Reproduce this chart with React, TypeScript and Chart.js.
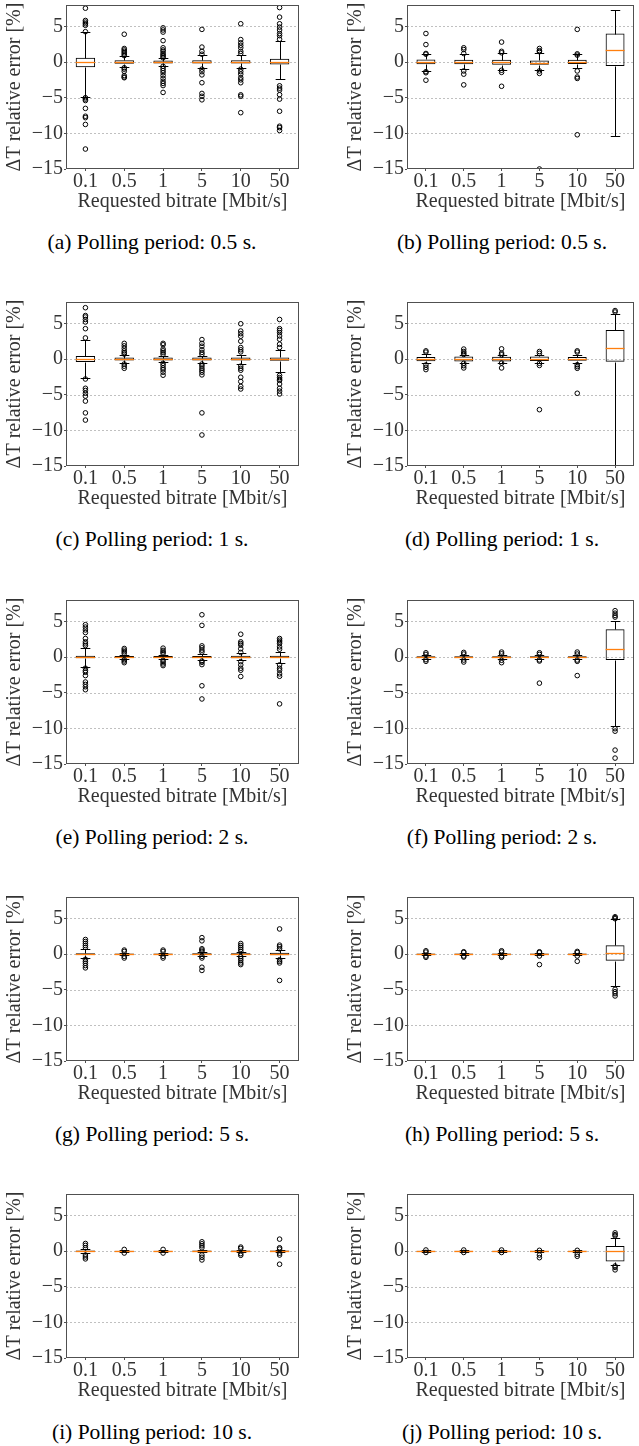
import React, { useEffect, useRef } from 'react';
import { Chart, registerables } from 'chart.js';

Chart.register(...registerables);

const bitrates = ['0.1', '0.5', '1', '5', '10', '50'];
const yTickValues = [-15, -10, -5, 0, 5];
const gridValues = [-10, -5, 0, 5];
const yMin = -15;
const yMax = 8;
const xTitle = 'Requested bitrate [Mbit/s]';
const yTitle = 'ΔT relative error [%]';
const captions = [
  '(a) Polling period: 0.5 s.',
  '(b) Polling period: 0.5 s.',
  '(c) Polling period: 1 s.',
  '(d) Polling period: 1 s.',
  '(e) Polling period: 2 s.',
  '(f) Polling period: 2 s.',
  '(g) Polling period: 5 s.',
  '(h) Polling period: 5 s.',
  '(i) Polling period: 10 s.',
  '(j) Polling period: 10 s.',
];

// Box statistics per bitrate: [lower whisker, Q1, median, Q3, upper whisker]
// Outliers per bitrate.

// (a)
const boxA = [
  [-4.95, -0.74, 0, 0.6, 4.17],
  [-0.7, -0.25, 0, 0.25, 0.8],
  [-0.5, -0.2, 0, 0.2, 0.5],
  [-0.85, -0.2, 0, 0.25, 1.0],
  [-0.9, -0.2, 0, 0.25, 0.95],
  [-2.36, -0.33, 0, 0.45, 2.9],
];
const outA = [
  [7.55, 5.83, 5.6, 5.37, 5.15, 4.26, -5.0, -5.2, -5.4, -6.5, -7.6, -7.8, -8.75, -12.2],
  [3.9, 1.9, 1.7, 1.5, 1.3, 1.1, 0.9, -0.8, -1.0, -1.3, -1.9, -2.1, -2.2],
  [4.8, 4.5, 4.2, 3.0, 2.0, 1.7, 1.5, 1.2, 1.0, 0.8, 0.6, -0.6, -0.9, -1.2, -1.5, -1.9, -2.3, -2.7, -3.0, -3.3, -4.26],
  [4.58, 2.1, 1.5, 1.1, -1.0, -1.35, -1.8, -2.9, -4.4, -4.8, -5.3],
  [5.37, 3.15, 2.7, 2.35, 2.0, 1.5, 1.2, -1.0, -1.35, -1.7, -2.2, -2.5, -2.9, -4.6, -4.8, -7.1],
  [7.64, 6.3, 5.37, 4.9, 4.5, 4.0, 3.7, 3.2, -3.33, -3.66, -3.93, -4.58, -5.2, -6.9, -9.0, -9.2, -9.6],
];

// (b)
const boxB = [
  [-1.25, -0.32, 0, 0.37, 1.06],
  [-1.0, -0.32, -0.05, 0.32, 1.06],
  [-1.1, -0.37, 0, 0.32, 1.2],
  [-1.1, -0.37, -0.2, 0.23, 1.3],
  [-0.9, -0.28, 0, 0.32, 1.06],
  [-10.4, -0.55, 1.75, 4.0, 7.3],
];
const outB = [
  [4.0, 2.45, 1.2, 1.1, -1.35, -1.5, -2.55],
  [2.0, 1.75, 1.2, -1.25, -1.7, -3.2],
  [2.8, 1.5, 1.3, -1.15, -1.45, -3.4],
  [1.9, 1.6, 1.45, -1.25, -1.6, -15.0],
  [4.58, 1.15, 0.97, -1.25, -2.1, -2.3, -10.2],
  [],
];

// (c)
const boxC = [
  [-2.64, -0.42, 0, 0.42, 2.73],
  [-0.5, -0.2, 0, 0.2, 0.5],
  [-0.45, -0.2, 0, 0.2, 0.45],
  [-0.5, -0.2, 0, 0.2, 0.46],
  [-0.7, -0.2, 0, 0.2, 0.6],
  [-1.8, -0.23, 0, 0.23, 1.25],
];
const outC = [
  [7.2, 6.1, 5.9, 5.55, 5.2, 4.26, 2.96, -2.8, -4.1, -4.4, -4.8, -5.2, -5.9, -7.55, -8.56],
  [2.2, 1.85, 1.5, 1.15, 0.9, 0.7, -0.7, -1.0, -1.3],
  [2.2, 2.0, 1.4, 1.15, 0.9, 0.65, -0.6, -0.9, -1.25, -1.5, -1.85, -2.27],
  [2.73, 2.2, 1.8, 1.3, 0.93, 0.65, -0.7, -0.97, -1.3, -1.57, -1.85, -2.22, -7.55, -10.65],
  [4.95, 3.93, 3.56, 3.2, 2.5, 1.62, 1.3, 1.0, -1.0, -1.3, -1.57, -2.55, -3.15, -3.84, -4.2],
  [5.55, 4.26, 4.0, 3.7, 3.24, 2.78, 2.08, 1.62, -2.3, -2.6, -2.82, -3.0, -3.5, -4.1, -4.5, -4.9],
];

// (d)
const boxD = [
  [-0.56, -0.3, 0, 0.3, 0.7],
  [-0.5, -0.33, 0, 0.37, 0.55],
  [-0.5, -0.33, 0, 0.33, 0.5],
  [-0.5, -0.28, 0, 0.37, 0.6],
  [-0.5, -0.23, 0, 0.28, 0.5],
  [-16, -0.37, 1.48, 4.07, 6.3],
];
const outD = [
  [1.15, 0.97, -0.83, -1.16, -1.48],
  [1.4, 1.06, 0.83, 0.65, -0.6, -0.93, -1.25],
  [1.43, 0.83, 0.6, -0.56, -1.25],
  [1.06, 0.8, -0.6, -0.9, -7.1],
  [1.15, 0.97, -0.8, -1.06, -1.3, -4.8],
  [6.8, 6.6],
];

// (e)
const boxE = [
  [-1.34, -0.18, 0, 0.18, 1.3],
  [-0.3, -0.14, 0, 0.14, 0.3],
  [-0.3, -0.14, 0, 0.14, 0.3],
  [-0.37, -0.14, 0, 0.14, 0.37],
  [-0.45, -0.18, 0, 0.18, 0.6],
  [-0.79, -0.14, 0, 0.18, 0.74],
];
const outE = [
  [4.54, 4.2, 3.8, 3.43, 2.6, 2.13, 1.85, 1.6, -1.57, -1.9, -2.13, -2.6, -3.5, -3.84, -4.17, -4.58],
  [1.2, 0.97, 0.74, 0.5, -0.37, -0.56, -0.79],
  [1.25, 0.93, 0.7, 0.5, -0.46, -0.7, -0.97, -1.2],
  [5.93, 4.44, 1.57, 1.3, 0.97, 0.7, -0.56, -0.74, -1.06, -4.03, -5.88],
  [3.2, 2.13, 1.9, 1.67, 1.16, 0.65, -0.65, -1.1, -1.57, -1.85, -2.73],
  [2.6, 2.36, 2.13, 1.9, 1.43, 1.1, -1.1, -1.57, -1.85, -2.36, -2.7, -6.57],
];

// (f)
const boxF = [
  [-0.25, -0.1, 0, 0.1, 0.25],
  [-0.25, -0.1, 0, 0.1, 0.25],
  [-0.25, -0.1, 0, 0.1, 0.25],
  [-0.25, -0.1, 0, 0.1, 0.25],
  [-0.25, -0.1, 0, 0.1, 0.25],
  [-9.7, -0.42, 1.06, 3.9, 5.0],
];
const outF = [
  [0.6, 0.37, -0.37, -0.6],
  [0.65, 0.42, -0.42, -0.7],
  [0.7, 0.45, -0.45, -0.79],
  [0.6, 0.37, -0.4, -0.56, -3.66],
  [0.7, 0.42, -0.42, -0.6, -2.6],
  [6.5, 6.15, 5.83, 5.6, -10.05, -10.4, -13.05, -14.17],
];

// (g)
const boxG = [
  [-0.56, -0.1, 0, 0.1, 0.7],
  [-0.2, -0.08, 0, 0.08, 0.2],
  [-0.2, -0.08, 0, 0.08, 0.2],
  [-0.25, -0.1, 0, 0.1, 0.25],
  [-0.25, -0.1, 0, 0.1, 0.25],
  [-0.56, -0.18, 0, 0.18, 0.56],
];
const outG = [
  [2.04, 1.76, 1.48, 1.2, 0.93, -0.74, -1.02, -1.3, -1.62, -1.94],
  [0.56, 0.37, -0.32, -0.56],
  [0.56, 0.37, -0.32, -0.56],
  [2.3, 1.85, 0.74, 0.56, 0.37, -0.32, -0.56, -1.85, -2.3],
  [1.48, 1.2, 0.93, 0.65, 0.37, -0.37, -0.65, -0.93, -1.25, -1.48],
  [3.52, 1.25, 1.02, 0.74, -0.8, -1.02, -1.25, -3.7],
];

// (h)
const boxH = [
  [-0.15, -0.06, 0, 0.06, 0.15],
  [-0.15, -0.06, 0, 0.06, 0.15],
  [-0.15, -0.06, 0, 0.06, 0.15],
  [-0.15, -0.06, 0, 0.06, 0.15],
  [-0.15, -0.06, 0, 0.06, 0.15],
  [-4.54, -0.93, 0.14, 1.25, 4.9],
];
const outH = [
  [0.46, 0.28, -0.28, -0.46],
  [0.32, 0.22, -0.28, -0.42],
  [0.46, 0.28, -0.28, -0.46],
  [0.32, 0.2, -0.28, -1.48],
  [0.37, 0.22, -0.28, -1.02],
  [5.23, 5.1, 4.95, -4.95, -5.28, -5.55, -5.88],
];

// (i)
const boxI = [
  [-0.3, -0.08, 0, 0.08, 0.35],
  [-0.1, -0.04, 0, 0.04, 0.1],
  [-0.1, -0.04, 0, 0.04, 0.1],
  [-0.2, -0.06, 0, 0.06, 0.2],
  [-0.15, -0.06, 0, 0.06, 0.15],
  [-0.2, -0.06, 0, 0.06, 0.2],
];
const outI = [
  [1.06, 0.79, 0.46, -0.56, -0.83, -1.1],
  [0.23, -0.28],
  [0.23, -0.28],
  [1.3, 1.02, 0.74, 0.46, -0.56, -0.88, -1.25],
  [0.56, 0.37, -0.37, -0.6],
  [1.67, 0.46, 0.28, -0.3, -0.56, -1.85],
];

// (j)
const boxJ = [
  [-0.08, -0.03, 0, 0.03, 0.08],
  [-0.08, -0.03, 0, 0.03, 0.08],
  [-0.08, -0.03, 0, 0.03, 0.08],
  [-0.08, -0.03, 0, 0.03, 0.08],
  [-0.08, -0.03, 0, 0.03, 0.08],
  [-1.94, -1.48, 0, 0.7, 1.85],
];
const outJ = [
  [0.15, -0.2],
  [0.15, -0.2],
  [0.15, -0.2],
  [0.1, -0.56, -0.93],
  [0.1, -0.46, -0.74],
  [2.55, 2.3, 2.13, -2.1, -2.3, -2.64],
];

const panelBoxes = [boxA, boxB, boxC, boxD, boxE, boxF, boxG, boxH, boxI, boxJ];
const panelOutliers = [outA, outB, outC, outD, outE, outF, outG, outH, outI, outJ];

const serif = "'Liberation Serif', 'Times New Roman', serif";
const rowTops = [0, 297, 595, 892, 1189];
const CANVAS_H = 220;

function fmt(v: number) {
  return v < 0 ? '\u2212' + Math.abs(v) : String(v);
}

function Panel({ idx }: { idx: number }) {
  const ref = useRef<HTMLCanvasElement>(null);
  const col = idx % 2;
  const row = Math.floor(idx / 2);
  const left = col === 0 ? 0 : 320;
  const width = col === 0 ? 320 : 319;
  const box = panelBoxes[idx];
  const out = panelOutliers[idx];

  useEffect(() => {
    if (!ref.current) return;
    const extras = {
      id: 'boxExtras',
      beforeDatasetsDraw(chart: any) {
        const { ctx, chartArea: a, scales } = chart;
        const y = scales.y;
        ctx.save();
        ctx.strokeStyle = '#b0b0b0';
        ctx.lineWidth = 0.8;
        ctx.setLineDash([2, 2]);
        gridValues.forEach((v) => {
          const py = Math.round(y.getPixelForValue(v)) + 0.5;
          ctx.beginPath();
          ctx.moveTo(a.left, py);
          ctx.lineTo(a.right, py);
          ctx.stroke();
        });
        ctx.restore();
      },
      afterDatasetDraw(chart: any, args: any) {
        if (args.index !== 0) return;
        const { ctx, chartArea: a, scales } = chart;
        const x = scales.x;
        const y = scales.y;
        const meta = chart.getDatasetMeta(0);
        ctx.save();
        ctx.beginPath();
        ctx.rect(a.left, a.top, a.right - a.left, a.bottom - a.top);
        ctx.clip();
        const py = (v: number) => Math.round(y.getPixelForValue(v)) + 0.5;
        box.forEach((s, i) => {
          const el: any = meta.data[i];
          const cx = Math.round(x.getPixelForValue(i)) + 0.5;
          const half = el.width / 2;
          const cap = half / 2;
          ctx.lineWidth = 1;
          ctx.strokeStyle = '#000';
          ctx.beginPath();
          ctx.moveTo(cx, py(s[1]));
          ctx.lineTo(cx, py(s[0]));
          ctx.moveTo(cx, py(s[3]));
          ctx.lineTo(cx, py(s[4]));
          ctx.moveTo(cx - cap, py(s[0]));
          ctx.lineTo(cx + cap, py(s[0]));
          ctx.moveTo(cx - cap, py(s[4]));
          ctx.lineTo(cx + cap, py(s[4]));
          ctx.stroke();
          ctx.strokeStyle = '#ff7f0e';
          ctx.lineWidth = 1.3;
          ctx.beginPath();
          ctx.moveTo(el.x - half, py(s[2]));
          ctx.lineTo(el.x + half, py(s[2]));
          ctx.stroke();
        });
        ctx.restore();
      },
      afterDraw(chart: any) {
        const { ctx, chartArea: a } = chart;
        ctx.save();
        ctx.strokeStyle = '#505050';
        ctx.lineWidth = 1;
        ctx.strokeRect(a.left + 0.5, a.top + 0.5, a.right - a.left - 1, a.bottom - a.top - 1);
        ctx.restore();
      },
    };

    const scatterData: { x: string; y: number }[] = [];
    out.forEach((arr, i) => arr.forEach((v) => scatterData.push({ x: bitrates[i], y: v })));

    const chart = new Chart(ref.current, {
      type: 'bar',
      data: {
        labels: bitrates,
        datasets: [
          {
            type: 'bar',
            data: box.map((s) => [s[1], s[3]]),
            backgroundColor: 'rgba(255,255,255,0)',
            borderColor: '#000',
            borderWidth: 1,
            borderSkipped: false,
            inflateAmount: 0,
            categoryPercentage: 1,
            barPercentage: 0.5,
            order: 2,
          } as any,
          {
            type: 'scatter',
            data: scatterData,
            pointStyle: 'circle',
            pointRadius: 2.3,
            pointBorderWidth: 1,
            borderColor: '#000',
            backgroundColor: 'rgba(255,255,255,0)',
            showLine: false,
            order: 1,
          } as any,
        ],
      },
      options: {
        responsive: false,
        animation: false,
        events: [],
        layout: {
          padding: { left: col === 0 ? 0 : 21, right: col === 0 ? 21 : 0, top: 3, bottom: 0 },
        },
        plugins: {
          legend: { display: false },
          tooltip: { enabled: false },
        },
        scales: {
          x: {
            type: 'category',
            offset: true,
            grid: {
              display: true,
              offset: false,
              drawOnChartArea: false,
              drawTicks: true,
              tickLength: 2,
              tickColor: '#505050',
              tickWidth: 1,
            },
            border: { display: false },
            ticks: {
              autoSkip: false,
              maxRotation: 0,
              padding: 1,
              color: '#333',
              font: { family: serif, size: 20, lineHeight: 1 },
            },
            title: {
              display: true,
              text: xTitle,
              color: '#333',
              padding: { top: 0, bottom: 6 },
              font: { family: serif, size: 20 },
            },
            afterFit(scale: any) {
              scale.height = 51;
              scale.paddingLeft = 0;
              scale.paddingRight = 0;
            },
          },
          y: {
            type: 'linear',
            min: yMin,
            max: yMax,
            afterBuildTicks(scale: any) {
              scale.ticks = yTickValues.map((v) => ({ value: v }));
            },
            grid: {
              display: true,
              drawOnChartArea: false,
              drawTicks: true,
              tickLength: 2,
              tickColor: '#505050',
              tickWidth: 1,
            },
            border: { display: false },
            ticks: {
              padding: 1,
              color: '#333',
              font: { family: serif, size: 20, lineHeight: 1 },
              callback: (v: any) => fmt(Number(v)),
            },
            title: {
              display: true,
              text: yTitle,
              color: '#333',
              padding: { top: 3, bottom: 0 },
              font: { family: serif, size: 20 },
            },
            afterFit(scale: any) {
              scale.width = 66;
              scale.paddingTop = 0;
              scale.paddingBottom = 0;
            },
          },
        },
      } as any,
      plugins: [extras as any],
    });
    return () => chart.destroy();
  }, []);

  return (
    <canvas
      ref={ref}
      width={width}
      height={CANVAS_H}
      style={{ position: 'absolute', left, top: rowTops[row], width, height: CANVAS_H }}
    />
  );
}

export default function App() {
  return (
    <div
      style={{
        position: 'absolute',
        left: 0,
        top: 0,
        width: 639,
        height: 1446,
        overflow: 'hidden',
        background: '#fff',
      }}
    >
      {panelBoxes.map((_, i) => (
        <Panel key={'p' + i} idx={i} />
      ))}
      {captions.map((c, i) => {
        const col = i % 2;
        const row = Math.floor(i / 2);
        const center = col === 0 ? 152 : 502;
        return (
          <div
            key={'c' + i}
            style={{
              position: 'absolute',
              left: center - 160,
              width: 320,
              top: 229.5 + row * 297.6,
              textAlign: 'center',
              fontFamily: serif,
              fontSize: 21.5,
              lineHeight: '24px',
              color: '#000',
              whiteSpace: 'nowrap',
            }}
          >
            {c}
          </div>
        );
      })}
    </div>
  );
}
